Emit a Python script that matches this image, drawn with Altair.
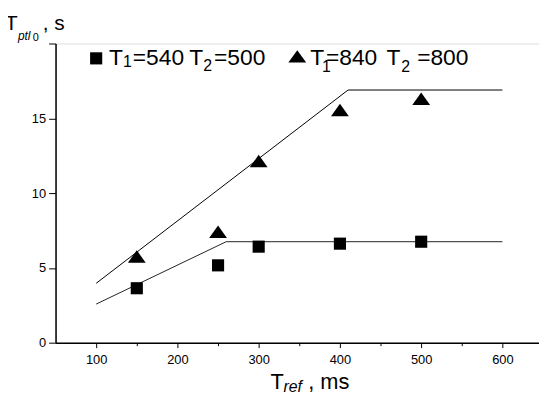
import altair as alt
import pandas as pd

FONT = "Liberation Sans"

# measured data
t_ref = [150, 250, 300, 400, 500]
sq_vals = [3.64, 5.17, 6.42, 6.62, 6.75]      # T1=540 T2=500
tri_vals = [5.76, 7.42, 12.14, 15.56, 16.3]   # T1=840 T2=800

fit_low_x = [100, 260, 600]
fit_low_y = [2.58, 6.75, 6.75]
fit_up_x = [100, 410, 600]
fit_up_y = [3.97, 16.89, 16.89]

x_ticks = [100, 150, 200, 250, 300, 350, 400, 450, 500, 550, 600]
y_ticks = [0, 2.5, 5, 7.5, 10, 12.5, 15, 17.5, 20]

sq = pd.DataFrame({"x": t_ref, "y": sq_vals})
tri = pd.DataFrame({"x": t_ref, "y": tri_vals})
low = pd.DataFrame({"x": fit_low_x, "y": fit_low_y})
up = pd.DataFrame({"x": fit_up_x, "y": fit_up_y})
one = pd.DataFrame({"a": [0]})

OX, OY = 56, 42  # page position of plot origin
W, H = 488, 302

xs = alt.Scale(domain=[50, 645], nice=False, zero=False)
ys = alt.Scale(domain=[0, 20], nice=False)

xaxis = alt.Axis(
    values=x_ticks, title=None, grid=False,
    labelExpr="datum.value % 100 === 0 ? datum.label : ''",
    tickSize={"condition": {"test": "datum.value % 100 !== 0", "value": 3}, "value": 5},
    labelFontSize=13, labelFont=FONT, labelColor="black", labelPadding=6,
    domainColor="black", domainWidth=1.5, tickColor="black", tickWidth=1,
)
yaxis = alt.Axis(
    values=y_ticks, title=None, grid=False,
    labelExpr="(datum.value % 5 === 0 && datum.value !== 20) ? datum.label : ''",
    tickSize={"condition": {"test": "datum.value % 5 !== 0", "value": 4}, "value": 7},
    labelFontSize=13, labelFont=FONT, labelColor="black", labelPadding=3,
    domainColor="black", domainWidth=1.5, tickColor="black", tickWidth=1,
)

lines_low = alt.Chart(low).mark_line(color="#222222", strokeWidth=1).encode(
    x=alt.X("x:Q", scale=xs, axis=xaxis), y=alt.Y("y:Q", scale=ys, axis=yaxis))
lines_up = alt.Chart(up).mark_line(color="black", strokeWidth=1).encode(
    x=alt.X("x:Q", scale=xs), y=alt.Y("y:Q", scale=ys))

TRI = "M0,-0.7L1,0.7L-1,0.7Z"

pts_sq = alt.Chart(sq).mark_point(shape="square", filled=True, color="black", size=150, opacity=1).encode(
    x=alt.X("x:Q", scale=xs), y=alt.Y("y:Q", scale=ys))
pts_tri = alt.Chart(tri).mark_point(shape=TRI, filled=True, color="black", size=324, opacity=1).encode(
    x=alt.X("x:Q", scale=xs), y=alt.Y("y:Q", scale=ys))


def txt(s, px, py, size, italic=False):
    return alt.Chart(one).mark_text(
        text=s, font=FONT, fontSize=size, fontStyle="italic" if italic else "normal",
        align="left", baseline="alphabetic", color="black",
    ).encode(x=alt.value(px - OX), y=alt.value(py - OY))


def sym(shape, px, py, size):
    return alt.Chart(one).mark_point(shape=shape, filled=True, color="black", size=size, opacity=1).encode(
        x=alt.value(px - OX), y=alt.value(py - OY))


texts = [
    # y title
    txt("T", 5, 28, 21), txt(", s", 43, 28, 21),
    txt("ptl", 18, 38, 12, italic=True), txt("0", 33, 39, 11),
    # x title
    txt("T", 273, 391, 22), txt("ref", 286, 394, 16, italic=True), txt(", ms", 311, 391, 22),
    # legend 1
    sym("square", 97, 57, 150),
    txt("T", 110, 64, 23), txt("1", 124, 66, 16), txt("=540", 134, 64, 23),
    txt("T", 191, 64, 23), txt("2", 205, 70, 16), txt("=500", 216, 64, 23),
    # legend 2
    sym(TRI, 300, 55, 324),
    txt("T", 313, 64, 23), txt("1", 325, 71, 16), txt("=840", 329, 64, 23),
    txt("T", 390, 64, 23), txt("2", 405, 71, 16), txt("=800", 421, 64, 23),
]

chart = alt.layer(lines_low, lines_up, pts_sq, pts_tri, *texts).properties(
    width=W, height=H,
    autosize=alt.AutoSizeParams(type="none"),
    padding={"left": OX - 8, "top": OY - 8, "right": 0, "bottom": 54},
).configure_view(stroke=None).configure(background="white")

chart.save("out.html", embed_options={"renderer": "svg", "actions": False})
